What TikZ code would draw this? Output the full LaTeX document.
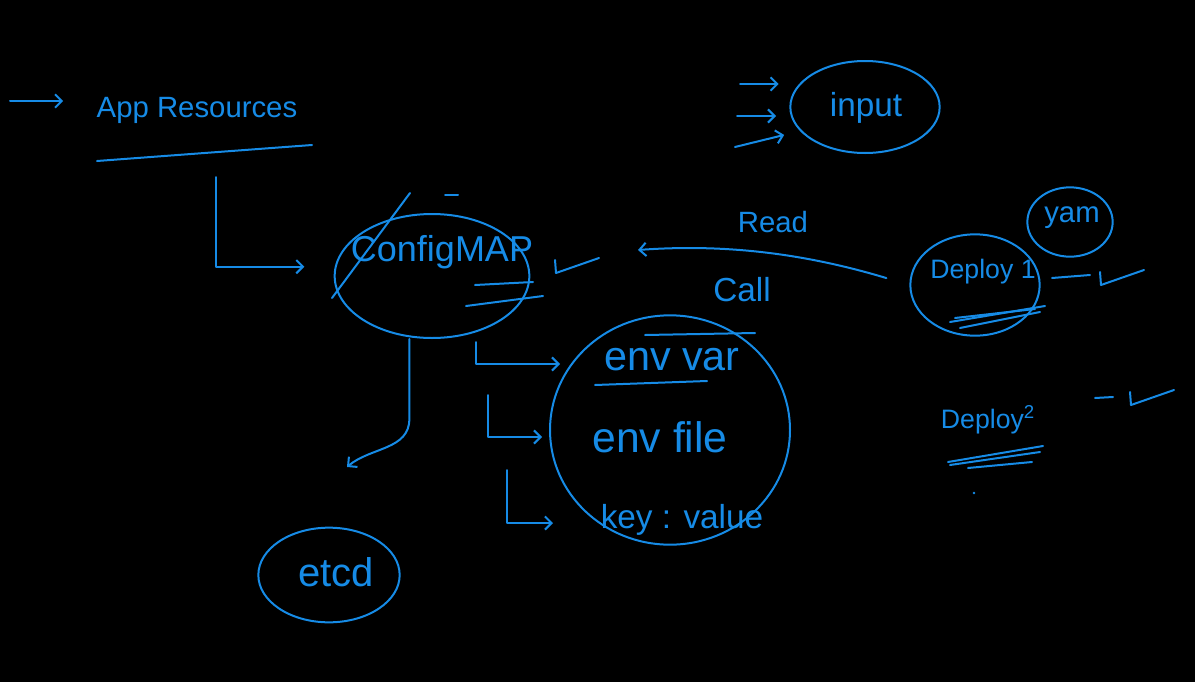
\documentclass[tikz,border=0pt]{standalone}
\usepackage{fontspec}
\setmainfont{Liberation Sans}
\usetikzlibrary{arrows.meta,positioning,shapes.geometric}
\definecolor{inkblue}{RGB}{22,139,230}
\tikzset{
  ink/.style={draw=inkblue, line width=1.5pt, line cap=round, line join=round},
  arr/.style={ink, -{Straight Barb[length=5pt,width=10pt]}},
  word/.style={text=inkblue, inner sep=0pt, font=\fontsize{#1}{#1}\selectfont},
  word/.default=22,
  blob/.style={ink, ellipse, inner sep=0pt},
  okmark/.pic={\draw[ink] (0,-12) -- (1,1) -- (44,-14);}
}
\begin{document}
\begin{tikzpicture}[x=0.75pt, y=-0.75pt]
% Board
\fill[black] (0,0) rectangle (1195,682);
% Words
\node[word=22] (apptext) at (197,110) {App Resources};
\node[word=27] (cfgtext) at (442,252) {ConfigMAP};
\node[word=22] (readtext) at (773,222) {Read};
\node[word=25] (calltext) at (742,290) {Call};
\node[word=20] (d1text) at (983,272) {Deploy 1};
\node[word=22] (yamtext) at (1072,218) {yam};
\node[word=25] (intext) at (866,108) {input};
\node[word=20] (d2text) at (988,420) {Deploy\textsuperscript{2}};
\node[word=31] (vartext) at (672,360) {env var};
\node[word=32] (filetext) at (660,437) {env file};
\node[word=25] (keytext) at (682,520) {key : value};
\node[word=30] (etcdtext) at (336,572) {etcd};
% Rings
\node[blob, minimum width=146pt, minimum height=93pt] (cfgring) at (432,276) {};
\node[blob, minimum width=180pt, minimum height=172pt] (envring) at (670,430) {};
\node[blob, minimum width=97pt, minimum height=76pt] (d1ring) at (975,285) {};
\node[blob, minimum width=64pt, minimum height=52pt] (yamring) at (1070,222) {};
\node[blob, minimum width=112pt, minimum height=69pt] (inring) at (865,107) {};
\node[blob, minimum width=106pt, minimum height=71pt] (etcdring) at (329,575) {};
% Free ends
\coordinate (leadin) at (10,101);
\coordinate (appdrop) at (216,177);
\coordinate (readtip) at (638,250);
\coordinate (etcdtip) at (347,467);
\coordinate (stemA) at (476,342);
\coordinate (stemB) at (488,395);
\coordinate (stemC) at (507,470);
\coordinate (envtipA) at (560,364);
\coordinate (envtipB) at (542,437);
\coordinate (envtipC) at (553,523);
\coordinate (feedA) at (740,84);
\coordinate (feedB) at (737,116);
\coordinate (feedC) at (735,147);
% Connectors
\draw[arr, shorten >=25pt] (leadin) -- (leadin -| apptext.west);
\draw[arr, shorten >=22pt] (appdrop) |- ([yshift=7pt]cfgring.west);
\draw[arr, shorten <=18pt] (d1ring.west) .. controls (800,252) and (720,244) .. (readtip);
\draw[arr] ([xshift=-17pt]cfgring.south) -- ++(0,80) to[out=-90,in=40] (etcdtip);
\draw[arr] (stemA) |- (envtipA);
\draw[arr] (stemB) |- (envtipB);
\draw[arr] (stemC) |- (envtipC);
\draw[arr, shorten >=8pt] (feedA) -- (feedA -| inring.west);
\draw[arr, shorten >=10pt] (feedB) -- (feedB -| inring.west);
\draw[arr, shorten >=4pt] (feedC) -- ([yshift=-20pt]inring.west);
% Strokes and ticks
\begin{scope}[ink]
  \draw (97,161) -- (312,145);
  \draw (410,193) -- (332,298);
  \draw (445,195) -- (458,195);
  \draw (475,285) -- (533,282);
  \draw (466,306) -- (543,296);
  \draw (595,385) -- (707,381);
  \draw (645,335) -- (755,333);
  \draw (950,322) -- (1045,306);
  \draw (955,318) -- (1035,309);
  \draw (960,328) -- (1040,312);
  \draw (1052,278) -- (1090,275);
  \draw (1095,398) -- (1113,397);
  \draw (948,462) -- (1043,446);
  \draw (950,465) -- (1040,452);
  \draw (968,468) -- (1032,462);
  \fill[inkblue] (974,493) circle (1pt);
\end{scope}
\pic at (555,272) {okmark};
\pic at (1100,284) {okmark};
\pic at (1130,404) {okmark};
\end{tikzpicture}
\end{document}
